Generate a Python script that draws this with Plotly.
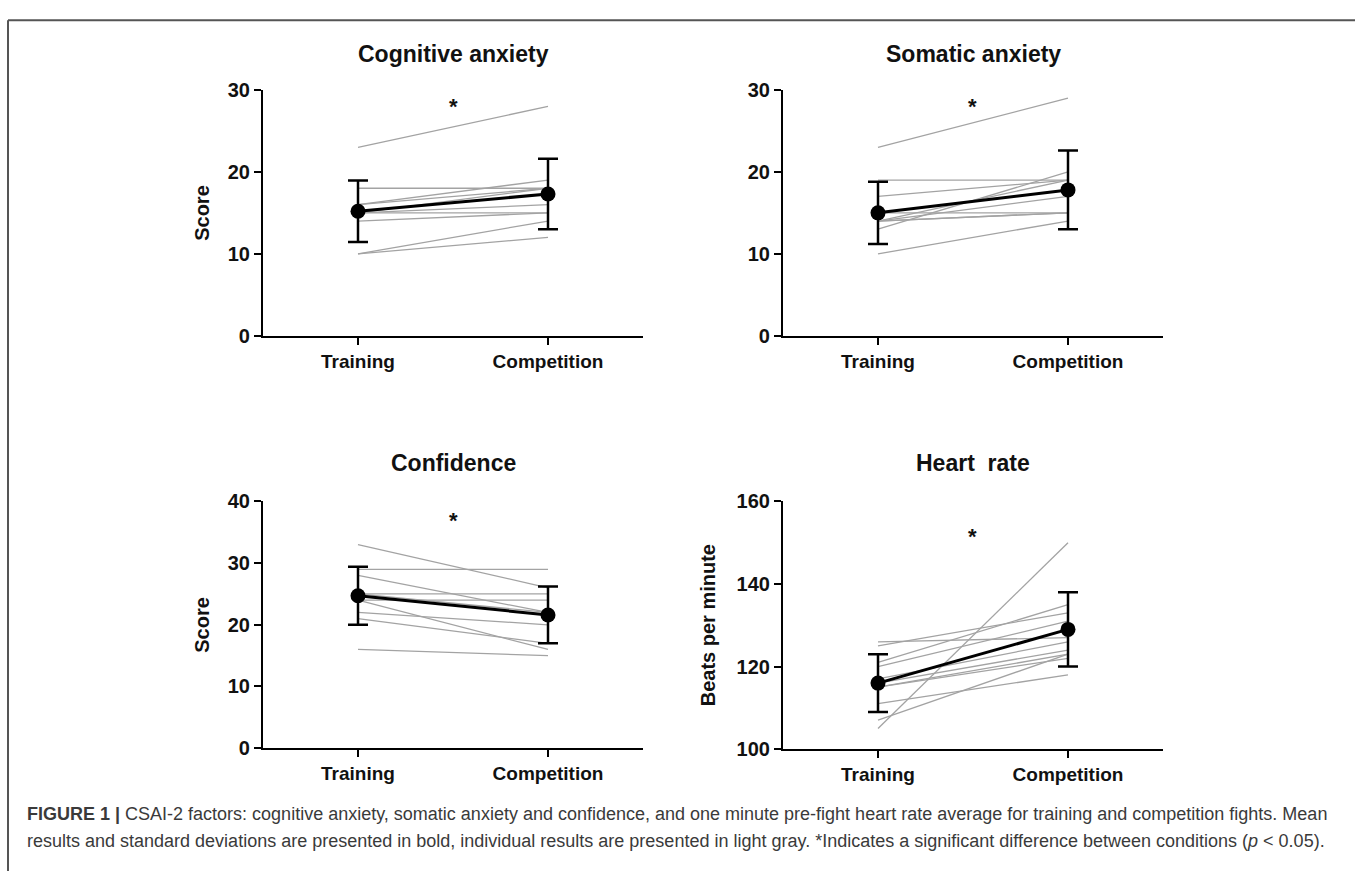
import plotly.graph_objects as go

W, H = 1355, 882

# ---------------- data ----------------
conditions = ["Training", "Competition"]

cog_training = [23, 18, 16, 16, 15, 15, 15, 14, 10, 10]
cog_competition = [28, 18, 19, 18, 18, 16, 15, 15, 14, 12]
cog_mean = [15.2, 17.3]
cog_sd = [3.75, 4.3]

som_training = [23, 19, 17, 13, 14, 14, 15, 14, 14, 10]
som_competition = [29, 19, 19, 20, 19, 17, 15, 15, 15, 14]
som_mean = [15.0, 17.8]
som_sd = [3.8, 4.8]

conf_training = [33, 29, 28, 25, 24, 24, 22, 21, 16, 25]
conf_competition = [26, 29, 22, 25, 24, 16, 20, 17, 15, 22]
conf_mean = [24.7, 21.6]
conf_sd = [4.7, 4.6]

hr_training = [105, 126, 125, 121, 120, 117, 116, 115, 115, 111, 107]
hr_competition = [150, 127, 133, 135, 131, 126, 124, 123, 122, 118, 123]
hr_mean = [116, 129]
hr_sd = [7, 9]

panel_titles = ["Cognitive anxiety", "Somatic anxiety", "Confidence", "Heart  rate"]
y_titles = ["Score", "", "Score", "Beats per minute"]
y_ranges = [[0, 30], [0, 30], [0, 40], [100, 160]]
y_dticks = [10, 10, 10, 20]
star_y = [28.0, 28.0, 36.9, 151.5]

panels = [
    (cog_training, cog_competition, cog_mean, cog_sd),
    (som_training, som_competition, som_mean, som_sd),
    (conf_training, conf_competition, conf_mean, conf_sd),
    (hr_training, hr_competition, hr_mean, hr_sd),
]

# ---------------- layout geometry (pixels) ----------------
x_px = [(263, 643), (783, 1163), (263, 643), (783, 1163)]
y_px = [(81, 333), (81, 333), (503, 756), (503, 757)]
title_y_px = [44, 44, 464, 464]
ytitle_x_px = [202, None, 202, 708]

def px_x(p):
    return p / W

def px_y(p):
    return 1 - p / H

FONT = "Liberation Sans, Arial, sans-serif"

fig = go.Figure()
xpos = [0, 1]

for i, (tr, co, mn, sd) in enumerate(panels):
    xa = "x" if i == 0 else f"x{i+1}"
    ya = "y" if i == 0 else f"y{i+1}"
    for a, b in zip(tr, co):
        fig.add_trace(go.Scatter(
            x=xpos, y=[a, b], mode="lines",
            line=dict(color="#a3a3a3", width=1.3),
            xaxis=xa, yaxis=ya, showlegend=False, hoverinfo="skip"))
    fig.add_trace(go.Scatter(
        x=xpos, y=mn, mode="lines+markers",
        line=dict(color="black", width=3),
        marker=dict(color="black", size=15),
        error_y=dict(type="data", array=sd, color="black", thickness=2.5, width=10),
        xaxis=xa, yaxis=ya, showlegend=False))

layout = dict(
    width=W, height=H, autosize=False,
    margin=dict(l=0, r=0, t=0, b=0),
    paper_bgcolor="white", plot_bgcolor="white",
    showlegend=False,
)

annotations = []
for i in range(4):
    xk = "xaxis" if i == 0 else f"xaxis{i+1}"
    yk = "yaxis" if i == 0 else f"yaxis{i+1}"
    xref = "x" if i == 0 else f"x{i+1}"
    yref = "y" if i == 0 else f"y{i+1}"
    layout[xk] = dict(
        domain=[px_x(x_px[i][0]), px_x(x_px[i][1])],
        anchor=yref, range=[-0.5, 1.5],
        tickvals=xpos, ticktext=conditions,
        showline=True, linecolor="black", linewidth=2.2,
        ticks="outside", ticklen=7, tickwidth=2.2, tickcolor="black",
        showgrid=False, zeroline=False,
        tickfont=dict(family=FONT, size=19, color="#111", weight="bold"),
    )
    layout[yk] = dict(
        domain=[px_y(y_px[i][1]), px_y(y_px[i][0])],
        anchor=xref, range=y_ranges[i], dtick=y_dticks[i],
        showline=True, linecolor="black", linewidth=2.2,
        ticks="outside", ticklen=7, tickwidth=2.2, tickcolor="black",
        showgrid=False, zeroline=False,
        tickfont=dict(family=FONT, size=20, color="#111", weight="bold"),
    )
    cx = (x_px[i][0] + x_px[i][1]) / 2
    annotations.append(dict(
        text=panel_titles[i], xref="paper", yref="paper",
        x=px_x(cx), y=px_y(title_y_px[i]), xanchor="center", yanchor="middle",
        showarrow=False,
        font=dict(family=FONT, size=23, color="#111", weight="bold")))
    if y_titles[i]:
        annotations.append(dict(
            text=y_titles[i], xref="paper", yref="paper", textangle=-90,
            x=px_x(ytitle_x_px[i]), y=px_y((y_px[i][0] + y_px[i][1]) / 2),
            xanchor="center", yanchor="middle", showarrow=False,
            font=dict(family=FONT, size=20, color="#111", weight="bold")))
    annotations.append(dict(
        text="*", xref=xref, yref=yref, x=0.5, y=star_y[i],
        xanchor="center", yanchor="middle", showarrow=False,
        font=dict(family=FONT, size=22, color="#111", weight="bold")))

caption_font = dict(family=FONT, size=18, color="#3a3a3a")
annotations.append(dict(
    text="<b>FIGURE 1 |</b> CSAI-2 factors: cognitive anxiety, somatic anxiety and confidence, and one minute pre-fight heart rate average for training and competition fights. Mean",
    xref="paper", yref="paper", x=px_x(25), y=px_y(824), xanchor="left", yanchor="middle",
    showarrow=False, font=caption_font))
annotations.append(dict(
    text="results and standard deviations are presented in bold, individual results are presented in light gray. *Indicates a significant difference between conditions (<i>p</i> &lt; 0.05).",
    xref="paper", yref="paper", x=px_x(25), y=px_y(851), xanchor="left", yanchor="middle",
    showarrow=False, font=caption_font))

layout["annotations"] = annotations
layout["shapes"] = [
    dict(type="line", xref="paper", yref="paper", x0=px_x(8), x1=1, y0=px_y(9.5), y1=px_y(9.5),
         line=dict(color="#555", width=2)),
    dict(type="line", xref="paper", yref="paper", x0=px_x(8), x1=px_x(8), y0=px_y(9.5), y1=0,
         line=dict(color="#555", width=2)),
]

fig.update_layout(**layout)
fig.write_html("out.html")
